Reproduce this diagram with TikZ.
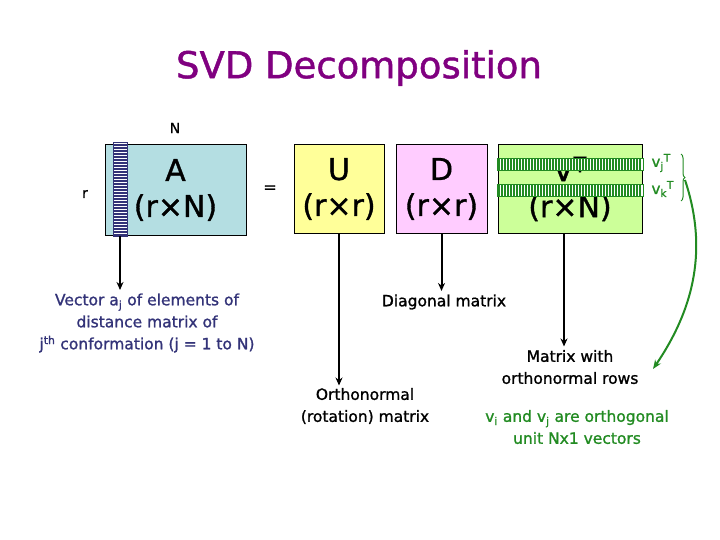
\documentclass[tikz,border=0pt]{standalone}
\usepackage{fontspec}
\setmainfont{DejaVu Sans}[FakeBold=1.2]
\usetikzlibrary{arrows.meta,decorations.pathreplacing}
\definecolor{TitleClr}{RGB}{128,0,128}
\definecolor{ABoxClr}{RGB}{180,222,226}
\definecolor{UBoxClr}{RGB}{255,255,153}
\definecolor{DBoxClr}{RGB}{255,204,255}
\definecolor{VBoxClr}{RGB}{204,255,153}
\definecolor{NavyClr}{RGB}{51,51,120}
\definecolor{VecClr}{RGB}{34,139,34}

\begin{document}
\begin{tikzpicture}[x=1pt,y=-1pt,
  mbox/.style={draw=black,line width=1pt,align=center,inner sep=0pt,
    font=\fontsize{30}{36}\selectfont},
  note/.style={align=center,font=\fontsize{15.5}{22}\selectfont},
  arr/.style={line width=2pt,-{Stealth[length=8pt,width=7pt]}}]
\useasboundingbox (0,0) rectangle (720,540);

\node[text=TitleClr,font=\fontsize{37}{40}\selectfont] (title) at (359,68) {SVD Decomposition};

\node[font=\fontsize{14}{16}\selectfont] (ncols) at (175,128) {N};
\node[font=\fontsize{14}{16}\selectfont] (nrows) at (85,194) {r};

\node[mbox,fill=ABoxClr,minimum width=141pt,minimum height=90pt] (A) at (175.5,190) {A\\(r×N)};
\node[font=\fontsize{16}{18}\selectfont] (eq) at (270,189) {=};
\node[mbox,fill=UBoxClr,minimum width=90pt,minimum height=88pt] (U) at (339,189) {U\\(r×r)};
\node[mbox,fill=DBoxClr,minimum width=91pt,minimum height=88pt] (D) at (441.5,189) {D\\(r×r)};
\node[mbox,fill=VBoxClr,minimum width=144pt,minimum height=88pt] (V) at (570,189) {V\textsuperscript{T}\\(r×N)};

\filldraw[fill=white,draw=NavyClr,line width=1pt] (113,143) rectangle (127,236);
\foreach \y in {145,148,...,235}
  \draw[NavyClr,line width=1.4pt] (113,\y) -- (127,\y);
\coordinate (acol) at (120,236);

\foreach \top in {159,185}{
  \filldraw[fill=white,draw=VecClr,line width=1pt] (497,\top) rectangle (643,\top+12);
  \foreach \x in {499,502,...,642}
    \draw[VecClr,line width=1.4pt] (\x,\top) -- (\x,\top+12);
}
\node[text=VecClr,font=\fontsize{15}{17}\selectfont,anchor=west] (vj) at (648,163) {v\textsubscript{j}\textsuperscript{T}};
\node[text=VecClr,font=\fontsize{15}{17}\selectfont,anchor=west] (vk) at (648,189) {v\textsubscript{k}\textsuperscript{T}};
\draw[VecClr,line width=1pt,decorate,decoration={brace,amplitude=4pt}] (681,154) -- (681,201);
\coordinate (bracetip) at (685,180);

\node[note,text=NavyClr] (vecnote) at (147,323) {Vector a\textsubscript{j} of elements of\\distance matrix of\\j\textsuperscript{th} conformation (j = 1 to N)};
\node[note] (diagnote) at (444,302) {Diagonal matrix};
\node[note] (orthnote) at (365,406) {Orthonormal\\(rotation) matrix};
\node[note] (rownote) at (570,367) {Matrix with\\orthonormal rows};
\node[note,text=VecClr] (vinote) at (577,427) {v\textsubscript{i} and v\textsubscript{j} are orthogonal\\unit Nx1 vectors};
\coordinate (vitip) at (653,369);

\draw[arr] (acol) -- (acol |- vecnote.north);
\draw[arr] (U.south) -- ++(0,152);
\draw[arr] (D.south) -- (D.south |- diagnote.north);
\draw[arr] (V.south) ++(-6,0) coordinate (vbot) -- (vbot |- rownote.north);
\draw[VecClr,line width=2pt,-{Stealth[length=9pt,width=7pt]}] (bracetip) .. controls (705,240) and (700,300) .. (vitip);

\end{tikzpicture}
\end{document}
